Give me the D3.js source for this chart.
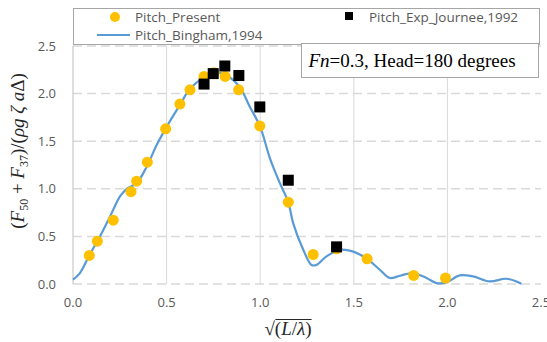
<!DOCTYPE html>
<html>
<head>
<meta charset="utf-8">
<script src="https://cdn.jsdelivr.net/npm/d3@7"></script>
<style>
  body { margin: 0; background: #fff; }
  svg { display: block; }
</style>
</head>
<body>
<div id="chart"></div>
<script>
// Pitch_Present (yellow circles)
var presentX = [0.087, 0.13, 0.215, 0.31, 0.34, 0.397, 0.495, 0.571, 0.625, 0.70, 0.753, 0.813, 0.885, 0.998, 1.15, 1.283, 1.408, 1.571, 1.82, 1.99];
var presentY = [0.30, 0.45, 0.67, 0.97, 1.08, 1.28, 1.63, 1.89, 2.04, 2.18, 2.22, 2.18, 2.04, 1.66, 0.86, 0.31, 0.37, 0.265, 0.09, 0.063];

// Pitch_Exp_Journee,1992 (black squares)
var expX = [0.70, 0.749, 0.811, 0.886, 0.998, 1.15, 1.408];
var expY = [2.10, 2.21, 2.29, 2.19, 1.86, 1.09, 0.39];

// Pitch_Bingham,1994 (blue line)
var binghamX = [0, 0.037, 0.087, 0.144, 0.198, 0.251, 0.287, 0.34, 0.393, 0.447, 0.50, 0.571, 0.625, 0.70, 0.77, 0.83, 0.89, 0.945, 1.0, 1.052, 1.105, 1.15, 1.176, 1.23, 1.274, 1.30, 1.354, 1.425, 1.479, 1.532, 1.586, 1.639, 1.692, 1.746, 1.817, 1.888, 1.942, 1.995, 2.066, 2.137, 2.226, 2.315, 2.395];
var binghamY = [0.045, 0.115, 0.30, 0.50, 0.71, 0.92, 1.0, 1.06, 1.23, 1.46, 1.65, 1.88, 2.05, 2.17, 2.22, 2.18, 2.07, 1.86, 1.65, 1.32, 1.06, 0.86, 0.64, 0.36, 0.20, 0.20, 0.29, 0.36, 0.35, 0.31, 0.24, 0.15, 0.063, 0.087, 0.115, 0.063, 0.01, 0.017, 0.09, 0.08, 0.027, 0.055, 0.003];

var xTicks = [0, 0.5, 1.0, 1.5, 2.0, 2.5];
var yTicks = [0, 0.5, 1.0, 1.5, 2.0, 2.5];

var W = 547, H = 342;
var margin = { left: 73, right: 6, top: 46, bottom: 58 };

var svg = d3.select("#chart").append("svg")
  .attr("width", W).attr("height", H);

var x = d3.scaleLinear().domain([0, 2.5]).range([margin.left, W - margin.right]);
var y = d3.scaleLinear().domain([0, 2.5]).range([H - margin.bottom, margin.top]);

var gridColor = "#d9d9d9";
var tickColor = "#595959";
var sans = "'Open Sans', 'DejaVu Sans', sans-serif";
var serif = "'Liberation Serif', 'DejaVu Serif', serif";

// vertical grid (solid)
svg.append("g").selectAll("line")
  .data(xTicks.filter(function(d) { return d > 0 && d < 2.5; }))
  .enter().append("line")
  .attr("x1", function(d) { return x(d); }).attr("x2", function(d) { return x(d); })
  .attr("y1", y(2.5)).attr("y2", y(0))
  .attr("stroke", gridColor).attr("stroke-width", 1);

// horizontal grid (dashed)
svg.append("g").selectAll("line")
  .data(yTicks)
  .enter().append("line")
  .attr("x1", x(0)).attr("x2", x(2.5))
  .attr("y1", function(d) { return y(d); }).attr("y2", function(d) { return y(d); })
  .attr("stroke", gridColor).attr("stroke-width", 1.5)
  .attr("stroke-dasharray", "9,5");

// y axis line
svg.append("line")
  .attr("x1", x(0)).attr("x2", x(0))
  .attr("y1", y(2.5)).attr("y2", y(0))
  .attr("stroke", "#bfbfbf").attr("stroke-width", 1);

// tick labels
svg.append("g").selectAll("text")
  .data(yTicks)
  .enter().append("text")
  .attr("x", x(0) - 17).attr("y", function(d) { return y(d) + 4.5; })
  .attr("text-anchor", "end")
  .attr("font-family", sans).attr("font-size", 13)
  .attr("fill", tickColor)
  .text(function(d) { return d3.format(".1f")(d); });

svg.append("g").selectAll("text")
  .data(xTicks)
  .enter().append("text")
  .attr("x", function(d) { return x(d); }).attr("y", y(0) + 23)
  .attr("text-anchor", "middle")
  .attr("font-family", sans).attr("font-size", 13)
  .attr("fill", tickColor)
  .text(function(d) { return d3.format(".1f")(d); });

// Bingham line
var line = d3.line()
  .x(function(d) { return x(d[0]); })
  .y(function(d) { return y(d[1]); })
  .curve(d3.curveCatmullRom.alpha(0.5));

svg.append("path")
  .datum(d3.zip(binghamX, binghamY))
  .attr("d", line)
  .attr("fill", "none")
  .attr("stroke", "#5b9bd5")
  .attr("stroke-width", 2.2);

// present circles
svg.append("g").selectAll("circle")
  .data(d3.zip(presentX, presentY))
  .enter().append("circle")
  .attr("cx", function(d) { return x(d[0]); })
  .attr("cy", function(d) { return y(d[1]); })
  .attr("r", 5.5)
  .attr("fill", "#ffc000");

// experiment squares
var sq = 11;
svg.append("g").selectAll("rect")
  .data(d3.zip(expX, expY))
  .enter().append("rect")
  .attr("x", function(d) { return x(d[0]) - sq / 2; })
  .attr("y", function(d) { return y(d[1]) - sq / 2; })
  .attr("width", sq).attr("height", sq)
  .attr("fill", "#000");

// legend box
var leg = svg.append("g");
leg.append("rect")
  .attr("x", 73.5).attr("y", 8.5).attr("width", 466).attr("height", 36)
  .attr("fill", "#fff").attr("stroke", "#a6a6a6").attr("stroke-width", 1);
leg.append("circle").attr("cx", 115).attr("cy", 17).attr("r", 5).attr("fill", "#ffc000");
leg.append("text").attr("x", 135).attr("y", 21.5)
  .attr("font-family", sans).attr("font-size", 13.5).attr("fill", tickColor)
  .text("Pitch_Present");
leg.append("line").attr("x1", 97).attr("x2", 130).attr("y1", 35).attr("y2", 35)
  .attr("stroke", "#5b9bd5").attr("stroke-width", 2.2);
leg.append("text").attr("x", 135).attr("y", 39.5)
  .attr("font-family", sans).attr("font-size", 13.5).attr("fill", tickColor)
  .text("Pitch_Bingham,1994");
leg.append("rect").attr("x", 345).attr("y", 12).attr("width", 8).attr("height", 8).attr("fill", "#000");
leg.append("text").attr("x", 369).attr("y", 21.5)
  .attr("font-family", sans).attr("font-size", 13.5).attr("fill", tickColor)
  .text("Pitch_Exp_Journee,1992");

// annotation box
svg.append("rect")
  .attr("x", 301.5).attr("y", 43.5).attr("width", 237).attr("height", 34)
  .attr("fill", "#fff").attr("stroke", "#a6a6a6").attr("stroke-width", 1);
var ann = svg.append("text")
  .attr("x", 412).attr("y", 67)
  .attr("text-anchor", "middle")
  .attr("font-family", serif).attr("font-size", 19).attr("fill", "#000");
ann.append("tspan").attr("font-style", "italic").text("Fn");
ann.append("tspan").text("=0.3, Head=180 degrees");

// y axis title
var yt = svg.append("text")
  .attr("transform", "translate(24,151) rotate(-90)")
  .attr("text-anchor", "middle")
  .attr("font-family", serif).attr("font-size", 19).attr("fill", "#262626");
yt.append("tspan").text("(");
yt.append("tspan").attr("font-style", "italic").text("F");
yt.append("tspan").attr("font-size", 12).attr("dy", 4).text("50");
yt.append("tspan").attr("dy", -4).text(" + ");
yt.append("tspan").attr("font-style", "italic").text("F");
yt.append("tspan").attr("font-size", 12).attr("dy", 4).text("37");
yt.append("tspan").attr("dy", -4).text(")/(");
yt.append("tspan").attr("font-style", "italic").text("ρg ζ a");
yt.append("tspan").text("Δ)");

// x axis title
var xt = svg.append("text")
  .attr("x", 288).attr("y", 335)
  .attr("text-anchor", "middle")
  .attr("font-family", serif).attr("font-size", 19).attr("fill", "#262626");
xt.append("tspan").text("√(");
xt.append("tspan").attr("font-style", "italic").text("L");
xt.append("tspan").text("/");
xt.append("tspan").attr("font-style", "italic").text("λ");
xt.append("tspan").text(")");
var bb = xt.node().getBBox();
svg.append("line")
  .attr("x1", bb.x + 11).attr("x2", bb.x + bb.width)
  .attr("y1", bb.y + 1.5).attr("y2", bb.y + 1.5)
  .attr("stroke", "#262626").attr("stroke-width", 1);
</script>
</body>
</html>
